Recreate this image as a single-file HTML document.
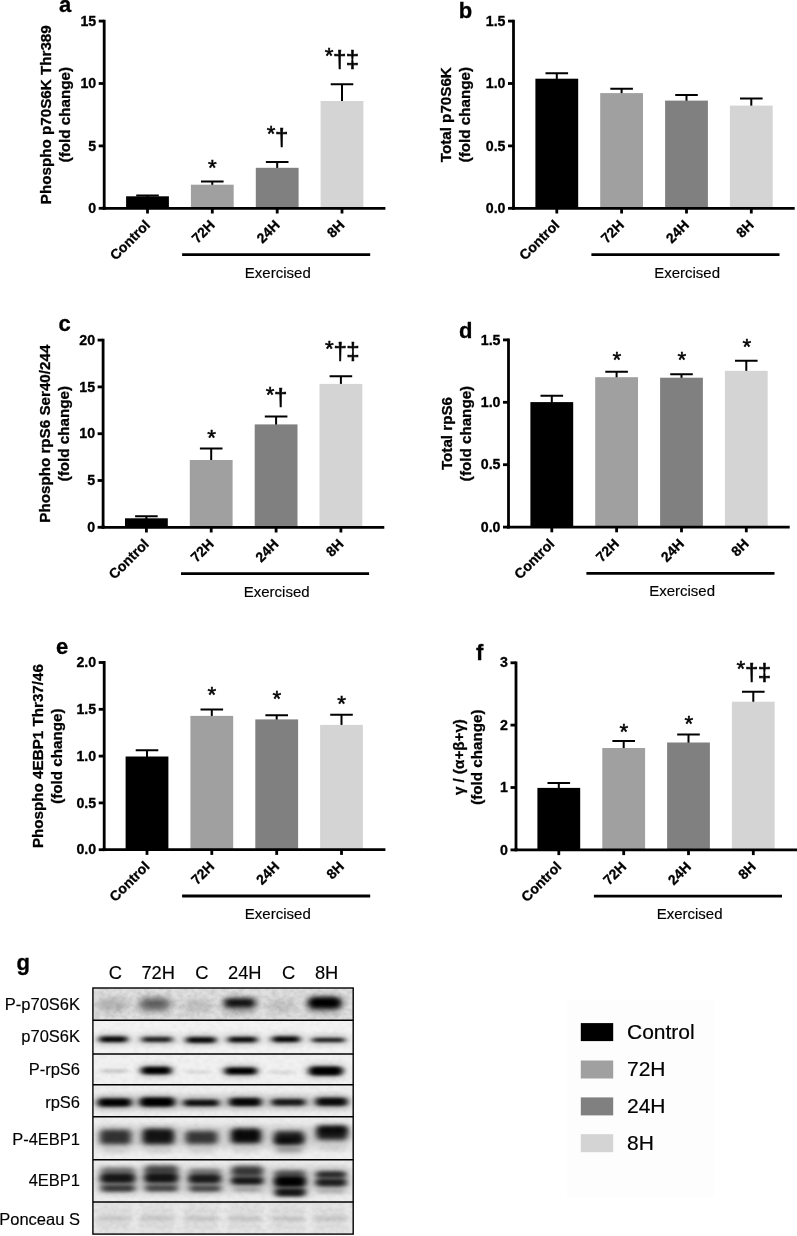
<!DOCTYPE html>
<html lang="en"><head><meta charset="utf-8"><title>Figure</title>
<style>
html,body{margin:0;padding:0;background:#fff}
svg{display:block}
text{font-family:"Liberation Sans", Arial, sans-serif;fill:#000}
.tk{font-size:14.2px;font-weight:bold;stroke:#000;stroke-width:.3px}
.xl{font-size:14px;font-weight:bold;stroke:#000;stroke-width:.3px}
.yl{font-size:15.2px;font-weight:bold;stroke:#000;stroke-width:.3px}
.ex{font-size:15px;stroke:#000;stroke-width:.15px}
.pl{font-size:22px;font-weight:bold;stroke:#000;stroke-width:.3px}
.sg{font-size:22.4px;stroke:#000;stroke-width:.5px}
.dg{font-size:24px;stroke:#000;stroke-width:.6px;stroke-linejoin:miter}
.lg{font-size:21px;stroke:#000;stroke-width:.2px}
.bl{font-size:16.5px;stroke:#000;stroke-width:.15px}
.ln{font-size:18.3px;stroke:#000;stroke-width:.15px}
</style></head><body>
<svg width="797" height="1236" viewBox="0 0 797 1236">
<rect width="797" height="1236" fill="#fff"/>
<path d="M147.5 197.3V195.4M136.2 195.4H158.8" stroke="#000" stroke-width="2.0" fill="none"/>
<rect x="126.1" y="196.3" width="42.8" height="12.0" fill="#000000"/>
<path d="M147.5 208.3v5.2" stroke="#000" stroke-width="2.8"/>
<path d="M212.3 185.7V181.5M201.0 181.5H223.6" stroke="#000" stroke-width="2.0" fill="none"/>
<rect x="190.9" y="184.7" width="42.8" height="23.6" fill="#a0a0a0"/>
<path d="M212.3 208.3v5.2" stroke="#000" stroke-width="2.8"/>
<path d="M277.2 168.8V162.0M265.9 162.0H288.5" stroke="#000" stroke-width="2.0" fill="none"/>
<rect x="255.8" y="167.8" width="42.8" height="40.5" fill="#808080"/>
<path d="M277.2 208.3v5.2" stroke="#000" stroke-width="2.8"/>
<path d="M342.0 102.0V84.3M330.7 84.3H353.3" stroke="#000" stroke-width="2.0" fill="none"/>
<rect x="320.6" y="101.0" width="42.8" height="107.3" fill="#d4d4d4"/>
<path d="M342.0 208.3v5.2" stroke="#000" stroke-width="2.8"/>
<path d="M104.2 19.8V208.3H385.4" stroke="#000" stroke-width="2.8" fill="none" stroke-linejoin="miter"/>
<path d="M104.2 209.7V206.3" stroke="#000" stroke-width="2.8"/>
<path d="M104.2 208.3h-5.5" stroke="#000" stroke-width="2.8"/>
<text x="96.2" y="212.9" text-anchor="end" class="tk">0</text>
<path d="M104.2 145.9h-5.5" stroke="#000" stroke-width="2.8"/>
<text x="96.2" y="150.5" text-anchor="end" class="tk">5</text>
<path d="M104.2 83.5h-5.5" stroke="#000" stroke-width="2.8"/>
<text x="96.2" y="88.1" text-anchor="end" class="tk">10</text>
<path d="M104.2 21.1h-5.5" stroke="#000" stroke-width="2.8"/>
<text x="96.2" y="25.8" text-anchor="end" class="tk">15</text>
<text transform="translate(150.9,225.9) rotate(-45)" text-anchor="end" class="xl">Control</text>
<text transform="translate(215.7,225.9) rotate(-45)" text-anchor="end" class="xl">72H</text>
<text transform="translate(280.6,225.9) rotate(-45)" text-anchor="end" class="xl">24H</text>
<text transform="translate(345.4,225.9) rotate(-45)" text-anchor="end" class="xl">8H</text>
<path d="M182.1 254.6H370.2" stroke="#000" stroke-width="2.8"/>
<text x="277.8" y="277.5" text-anchor="middle" class="ex">Exercised</text>
<text transform="translate(51.2,114.7) rotate(-90)" text-anchor="middle" class="yl">Phospho p70S6K Thr389</text>
<text transform="translate(70.0,114.7) rotate(-90)" text-anchor="middle" class="yl">(fold change)</text>
<text x="59.0" y="12.3" class="pl">a</text>
<text x="208.0" y="175.2" class="sg">*</text>
<text x="266.7" y="141.4" class="sg">*</text>
<text x="275.0" y="145.1" class="dg">†</text>
<text x="324.7" y="63.2" class="sg">*</text>
<text x="333.0 345.8" y="66.9" class="dg">†‡</text>
<path d="M556.8 79.7V73.2M545.5 73.2H568.1" stroke="#000" stroke-width="2.0" fill="none"/>
<rect x="535.4" y="78.7" width="42.8" height="129.6" fill="#000000"/>
<path d="M556.8 208.3v5.2" stroke="#000" stroke-width="2.8"/>
<path d="M621.6 94.1V88.7M610.3 88.7H632.9" stroke="#000" stroke-width="2.0" fill="none"/>
<rect x="600.2" y="93.1" width="42.8" height="115.2" fill="#a0a0a0"/>
<path d="M621.6 208.3v5.2" stroke="#000" stroke-width="2.8"/>
<path d="M686.5 101.6V95.1M675.2 95.1H697.8" stroke="#000" stroke-width="2.0" fill="none"/>
<rect x="665.1" y="100.6" width="42.8" height="107.7" fill="#808080"/>
<path d="M686.5 208.3v5.2" stroke="#000" stroke-width="2.8"/>
<path d="M751.3 106.6V98.6M740.0 98.6H762.6" stroke="#000" stroke-width="2.0" fill="none"/>
<rect x="729.9" y="105.6" width="42.8" height="102.7" fill="#d4d4d4"/>
<path d="M751.3 208.3v5.2" stroke="#000" stroke-width="2.8"/>
<path d="M513.5 19.8V208.3H794.7" stroke="#000" stroke-width="2.8" fill="none" stroke-linejoin="miter"/>
<path d="M513.5 209.7V206.3" stroke="#000" stroke-width="2.8"/>
<path d="M513.5 208.3h-5.5" stroke="#000" stroke-width="2.8"/>
<text x="505.5" y="212.9" text-anchor="end" class="tk">0.0</text>
<path d="M513.5 145.9h-5.5" stroke="#000" stroke-width="2.8"/>
<text x="505.5" y="150.5" text-anchor="end" class="tk">0.5</text>
<path d="M513.5 83.5h-5.5" stroke="#000" stroke-width="2.8"/>
<text x="505.5" y="88.1" text-anchor="end" class="tk">1.0</text>
<path d="M513.5 21.1h-5.5" stroke="#000" stroke-width="2.8"/>
<text x="505.5" y="25.8" text-anchor="end" class="tk">1.5</text>
<text transform="translate(560.2,225.9) rotate(-45)" text-anchor="end" class="xl">Control</text>
<text transform="translate(625.0,225.9) rotate(-45)" text-anchor="end" class="xl">72H</text>
<text transform="translate(689.9,225.9) rotate(-45)" text-anchor="end" class="xl">24H</text>
<text transform="translate(754.7,225.9) rotate(-45)" text-anchor="end" class="xl">8H</text>
<path d="M591.4 254.6H779.5" stroke="#000" stroke-width="2.8"/>
<text x="687.1" y="277.5" text-anchor="middle" class="ex">Exercised</text>
<text transform="translate(451.2,114.7) rotate(-90)" text-anchor="middle" class="yl">Total p70S6K</text>
<text transform="translate(470.0,114.7) rotate(-90)" text-anchor="middle" class="yl">(fold change)</text>
<text x="458.8" y="18.0" class="pl">b</text>
<path d="M146.4 519.3V516.3M135.1 516.3H157.7" stroke="#000" stroke-width="2.0" fill="none"/>
<rect x="125.0" y="518.3" width="42.8" height="9.0" fill="#000000"/>
<path d="M146.4 527.3v5.2" stroke="#000" stroke-width="2.8"/>
<path d="M211.2 461.0V448.5M199.9 448.5H222.5" stroke="#000" stroke-width="2.0" fill="none"/>
<rect x="189.8" y="460.0" width="42.8" height="67.3" fill="#a0a0a0"/>
<path d="M211.2 527.3v5.2" stroke="#000" stroke-width="2.8"/>
<path d="M276.1 425.4V416.4M264.8 416.4H287.4" stroke="#000" stroke-width="2.0" fill="none"/>
<rect x="254.7" y="424.4" width="42.8" height="102.9" fill="#808080"/>
<path d="M276.1 527.3v5.2" stroke="#000" stroke-width="2.8"/>
<path d="M340.9 384.9V376.2M329.6 376.2H352.2" stroke="#000" stroke-width="2.0" fill="none"/>
<rect x="319.5" y="383.9" width="42.8" height="143.4" fill="#d4d4d4"/>
<path d="M340.9 527.3v5.2" stroke="#000" stroke-width="2.8"/>
<path d="M103.1 338.8V527.3H384.3" stroke="#000" stroke-width="2.8" fill="none" stroke-linejoin="miter"/>
<path d="M103.1 528.7V525.3" stroke="#000" stroke-width="2.8"/>
<path d="M103.1 527.3h-5.5" stroke="#000" stroke-width="2.8"/>
<text x="95.1" y="531.9" text-anchor="end" class="tk">0</text>
<path d="M103.1 480.5h-5.5" stroke="#000" stroke-width="2.8"/>
<text x="95.1" y="485.1" text-anchor="end" class="tk">5</text>
<path d="M103.1 433.7h-5.5" stroke="#000" stroke-width="2.8"/>
<text x="95.1" y="438.3" text-anchor="end" class="tk">10</text>
<path d="M103.1 386.9h-5.5" stroke="#000" stroke-width="2.8"/>
<text x="95.1" y="391.5" text-anchor="end" class="tk">15</text>
<path d="M103.1 340.1h-5.5" stroke="#000" stroke-width="2.8"/>
<text x="95.1" y="344.8" text-anchor="end" class="tk">20</text>
<text transform="translate(149.8,544.9) rotate(-45)" text-anchor="end" class="xl">Control</text>
<text transform="translate(214.6,544.9) rotate(-45)" text-anchor="end" class="xl">72H</text>
<text transform="translate(279.5,544.9) rotate(-45)" text-anchor="end" class="xl">24H</text>
<text transform="translate(344.3,544.9) rotate(-45)" text-anchor="end" class="xl">8H</text>
<path d="M181.0 573.6H369.1" stroke="#000" stroke-width="2.8"/>
<text x="276.7" y="596.5" text-anchor="middle" class="ex">Exercised</text>
<text transform="translate(50.0,433.7) rotate(-90)" text-anchor="middle" class="yl">Phospho rpS6 Ser40/244</text>
<text transform="translate(68.8,433.7) rotate(-90)" text-anchor="middle" class="yl">(fold change)</text>
<text x="58.5" y="331.3" class="pl">c</text>
<text x="207.2" y="445.4" class="sg">*</text>
<text x="265.7" y="401.5" class="sg">*</text>
<text x="274.0" y="405.2" class="dg">†</text>
<text x="325.1" y="355.6" class="sg">*</text>
<text x="333.4 346.2" y="359.3" class="dg">†‡</text>
<path d="M551.8 403.1V395.7M540.5 395.7H563.1" stroke="#000" stroke-width="2.0" fill="none"/>
<rect x="530.4" y="402.1" width="42.8" height="125.0" fill="#000000"/>
<path d="M551.8 527.1v5.2" stroke="#000" stroke-width="2.8"/>
<path d="M616.6 378.2V371.8M605.3 371.8H627.9" stroke="#000" stroke-width="2.0" fill="none"/>
<rect x="595.2" y="377.2" width="42.8" height="149.9" fill="#a0a0a0"/>
<path d="M616.6 527.1v5.2" stroke="#000" stroke-width="2.8"/>
<path d="M681.5 378.7V374.3M670.2 374.3H692.8" stroke="#000" stroke-width="2.0" fill="none"/>
<rect x="660.1" y="377.7" width="42.8" height="149.4" fill="#808080"/>
<path d="M681.5 527.1v5.2" stroke="#000" stroke-width="2.8"/>
<path d="M746.3 371.8V360.8M735.0 360.8H757.6" stroke="#000" stroke-width="2.0" fill="none"/>
<rect x="724.9" y="370.8" width="42.8" height="156.3" fill="#d4d4d4"/>
<path d="M746.3 527.1v5.2" stroke="#000" stroke-width="2.8"/>
<path d="M508.5 338.6V527.1H789.7" stroke="#000" stroke-width="2.8" fill="none" stroke-linejoin="miter"/>
<path d="M508.5 528.5V525.1" stroke="#000" stroke-width="2.8"/>
<path d="M508.5 527.1h-5.5" stroke="#000" stroke-width="2.8"/>
<text x="500.5" y="531.7" text-anchor="end" class="tk">0.0</text>
<path d="M508.5 464.7h-5.5" stroke="#000" stroke-width="2.8"/>
<text x="500.5" y="469.3" text-anchor="end" class="tk">0.5</text>
<path d="M508.5 402.3h-5.5" stroke="#000" stroke-width="2.8"/>
<text x="500.5" y="406.9" text-anchor="end" class="tk">1.0</text>
<path d="M508.5 339.9h-5.5" stroke="#000" stroke-width="2.8"/>
<text x="500.5" y="344.6" text-anchor="end" class="tk">1.5</text>
<text transform="translate(555.2,544.7) rotate(-45)" text-anchor="end" class="xl">Control</text>
<text transform="translate(620.0,544.7) rotate(-45)" text-anchor="end" class="xl">72H</text>
<text transform="translate(684.9,544.7) rotate(-45)" text-anchor="end" class="xl">24H</text>
<text transform="translate(749.7,544.7) rotate(-45)" text-anchor="end" class="xl">8H</text>
<path d="M586.4 573.4H774.5" stroke="#000" stroke-width="2.8"/>
<text x="682.1" y="596.3" text-anchor="middle" class="ex">Exercised</text>
<text transform="translate(451.9,433.5) rotate(-90)" text-anchor="middle" class="yl">Total rpS6</text>
<text transform="translate(470.7,433.5) rotate(-90)" text-anchor="middle" class="yl">(fold change)</text>
<text x="459.0" y="337.6" class="pl">d</text>
<text x="612.4" y="367.1" class="sg">*</text>
<text x="677.5" y="367.1" class="sg">*</text>
<text x="742.5" y="354.2" class="sg">*</text>
<path d="M147.0 757.5V750.3M135.7 750.3H158.3" stroke="#000" stroke-width="2.0" fill="none"/>
<rect x="125.6" y="756.5" width="42.8" height="93.2" fill="#000000"/>
<path d="M147.0 849.7v5.2" stroke="#000" stroke-width="2.8"/>
<path d="M211.8 716.9V709.6M200.5 709.6H223.1" stroke="#000" stroke-width="2.0" fill="none"/>
<rect x="190.4" y="715.9" width="42.8" height="133.8" fill="#a0a0a0"/>
<path d="M211.8 849.7v5.2" stroke="#000" stroke-width="2.8"/>
<path d="M276.7 720.4V715.2M265.4 715.2H288.0" stroke="#000" stroke-width="2.0" fill="none"/>
<rect x="255.3" y="719.4" width="42.8" height="130.3" fill="#808080"/>
<path d="M276.7 849.7v5.2" stroke="#000" stroke-width="2.8"/>
<path d="M341.5 725.9V714.7M330.2 714.7H352.8" stroke="#000" stroke-width="2.0" fill="none"/>
<rect x="320.1" y="724.9" width="42.8" height="124.8" fill="#d4d4d4"/>
<path d="M341.5 849.7v5.2" stroke="#000" stroke-width="2.8"/>
<path d="M104.2 661.1V849.7H385.4" stroke="#000" stroke-width="2.8" fill="none" stroke-linejoin="miter"/>
<path d="M104.2 851.1V847.7" stroke="#000" stroke-width="2.8"/>
<path d="M104.2 849.7h-5.5" stroke="#000" stroke-width="2.8"/>
<text x="96.2" y="854.3" text-anchor="end" class="tk">0.0</text>
<path d="M104.2 802.9h-5.5" stroke="#000" stroke-width="2.8"/>
<text x="96.2" y="807.5" text-anchor="end" class="tk">0.5</text>
<path d="M104.2 756.1h-5.5" stroke="#000" stroke-width="2.8"/>
<text x="96.2" y="760.7" text-anchor="end" class="tk">1.0</text>
<path d="M104.2 709.3h-5.5" stroke="#000" stroke-width="2.8"/>
<text x="96.2" y="713.9" text-anchor="end" class="tk">1.5</text>
<path d="M104.2 662.5h-5.5" stroke="#000" stroke-width="2.8"/>
<text x="96.2" y="667.1" text-anchor="end" class="tk">2.0</text>
<text transform="translate(150.4,867.3) rotate(-45)" text-anchor="end" class="xl">Control</text>
<text transform="translate(215.2,867.3) rotate(-45)" text-anchor="end" class="xl">72H</text>
<text transform="translate(280.1,867.3) rotate(-45)" text-anchor="end" class="xl">24H</text>
<text transform="translate(344.9,867.3) rotate(-45)" text-anchor="end" class="xl">8H</text>
<path d="M182.1 896.0H370.2" stroke="#000" stroke-width="2.8"/>
<text x="277.8" y="918.9" text-anchor="middle" class="ex">Exercised</text>
<text transform="translate(43.4,756.1) rotate(-90)" text-anchor="middle" class="yl">Phospho 4EBP1 Thr37/46</text>
<text transform="translate(62.2,756.1) rotate(-90)" text-anchor="middle" class="yl">(fold change)</text>
<text x="56.0" y="653.8" class="pl">e</text>
<text x="207.4" y="702.4" class="sg">*</text>
<text x="272.5" y="705.8" class="sg">*</text>
<text x="337.2" y="710.9" class="sg">*</text>
<path d="M558.8 788.9V782.9M547.5 782.9H570.1" stroke="#000" stroke-width="2.0" fill="none"/>
<rect x="537.4" y="787.9" width="42.8" height="62.0" fill="#000000"/>
<path d="M558.8 849.9v5.2" stroke="#000" stroke-width="2.8"/>
<path d="M623.7 749.0V741.0M612.4 741.0H635.0" stroke="#000" stroke-width="2.0" fill="none"/>
<rect x="602.3" y="748.0" width="42.8" height="101.9" fill="#a0a0a0"/>
<path d="M623.7 849.9v5.2" stroke="#000" stroke-width="2.8"/>
<path d="M688.5 743.5V734.6M677.2 734.6H699.8" stroke="#000" stroke-width="2.0" fill="none"/>
<rect x="667.1" y="742.5" width="42.8" height="107.4" fill="#808080"/>
<path d="M688.5 849.9v5.2" stroke="#000" stroke-width="2.8"/>
<path d="M753.3 702.7V691.7M742.0 691.7H764.6" stroke="#000" stroke-width="2.0" fill="none"/>
<rect x="731.9" y="701.7" width="42.8" height="148.2" fill="#d4d4d4"/>
<path d="M753.3 849.9v5.2" stroke="#000" stroke-width="2.8"/>
<path d="M516.0 661.4V849.9H797.2" stroke="#000" stroke-width="2.8" fill="none" stroke-linejoin="miter"/>
<path d="M516.0 851.3V847.9" stroke="#000" stroke-width="2.8"/>
<path d="M516.0 849.9h-5.5" stroke="#000" stroke-width="2.8"/>
<text x="508.0" y="854.5" text-anchor="end" class="tk">0</text>
<path d="M516.0 787.5h-5.5" stroke="#000" stroke-width="2.8"/>
<text x="508.0" y="792.1" text-anchor="end" class="tk">1</text>
<path d="M516.0 725.1h-5.5" stroke="#000" stroke-width="2.8"/>
<text x="508.0" y="729.7" text-anchor="end" class="tk">2</text>
<path d="M516.0 662.8h-5.5" stroke="#000" stroke-width="2.8"/>
<text x="508.0" y="667.4" text-anchor="end" class="tk">3</text>
<text transform="translate(562.2,867.5) rotate(-45)" text-anchor="end" class="xl">Control</text>
<text transform="translate(627.1,867.5) rotate(-45)" text-anchor="end" class="xl">72H</text>
<text transform="translate(691.9,867.5) rotate(-45)" text-anchor="end" class="xl">24H</text>
<text transform="translate(756.7,867.5) rotate(-45)" text-anchor="end" class="xl">8H</text>
<path d="M593.9 896.2H782.0" stroke="#000" stroke-width="2.8"/>
<text x="689.6" y="919.1" text-anchor="middle" class="ex">Exercised</text>
<text transform="translate(463.5,757.1) rotate(-90)" text-anchor="middle" class="yl">γ / (α+β+γ)</text>
<text transform="translate(482.3,757.1) rotate(-90)" text-anchor="middle" class="yl">(fold change)</text>
<text x="476.0" y="660.3" class="pl">f</text>
<text x="619.4" y="738.7" class="sg">*</text>
<text x="684.5" y="730.9" class="sg">*</text>
<text x="736.6" y="676.0" class="sg">*</text>
<text x="744.9 757.7" y="679.7" class="dg">†‡</text>
<rect x="567" y="999.7" width="147" height="197" fill="#fdfdfd"/>
<rect x="580.8" y="1023.1" width="32.4" height="18" fill="#000000"/>
<text x="627" y="1038.7" class="lg">Control</text>
<rect x="580.8" y="1060.5" width="32.4" height="18" fill="#a0a0a0"/>
<text x="627" y="1076.1" class="lg">72H</text>
<rect x="580.8" y="1097.4" width="32.4" height="18" fill="#808080"/>
<text x="627" y="1113.0" class="lg">24H</text>
<rect x="580.8" y="1134.2" width="32.4" height="18" fill="#d4d4d4"/>
<text x="627" y="1149.8" class="lg">8H</text>
<defs><filter id="b1" x="-30%" y="-150%" width="160%" height="400%"><feGaussianBlur stdDeviation="3 1.7"/></filter><filter id="b2" x="-30%" y="-150%" width="160%" height="400%"><feGaussianBlur stdDeviation="4 3"/></filter><filter id="b3" x="-30%" y="-150%" width="160%" height="400%"><feGaussianBlur stdDeviation="3 2.3"/></filter><clipPath id="bc"><rect x="92.9" y="988.0" width="260.29999999999995" height="246.0999999999999"/></clipPath><filter id="nz" x="0" y="0" width="100%" height="100%"><feTurbulence type="fractalNoise" baseFrequency="0.18 0.22" numOctaves="2" seed="7"/><feColorMatrix type="matrix" values="0 0 0 0 0 0 0 0 0 0 0 0 0 0 0 1.2 0 0 0 -0.42"/></filter></defs>
<g clip-path="url(#bc)">
<rect x="92.9" y="988.0" width="260.3" height="32.2" fill="#e0e0e0"/>
<rect x="92.9" y="1020.2" width="260.3" height="33.9" fill="#f3f3f3"/>
<rect x="92.9" y="1054.1" width="260.3" height="30.7" fill="#f1f1f1"/>
<rect x="92.9" y="1084.8" width="260.3" height="32.0" fill="#efefef"/>
<rect x="92.9" y="1116.8" width="260.3" height="42.9" fill="#efefef"/>
<rect x="92.9" y="1159.7" width="260.3" height="42.4" fill="#ededed"/>
<rect x="92.9" y="1202.1" width="260.3" height="32.0" fill="#e3e3e3"/>
<rect x="95.9" y="1035.1" width="254.3" height="9" fill="#000" opacity="0.05" filter="url(#b2)"/>
<rect x="95.9" y="1095.7" width="254.3" height="13" fill="#000" opacity="0.13" filter="url(#b2)"/>
<rect x="95.9" y="1125.0" width="254.3" height="24" fill="#000" opacity="0.1" filter="url(#b2)"/>
<rect x="95.9" y="1166.5" width="254.3" height="27" fill="#000" opacity="0.11" filter="url(#b2)"/>
<rect x="97.0" y="998.5" width="31.0" height="13.0" rx="6.5" fill="#000" opacity="0.19" filter="url(#b2)"/>
<rect x="140.0" y="998.5" width="29.5" height="10.5" rx="5.2" fill="#000" opacity="0.5" filter="url(#b2)"/>
<rect x="138.0" y="997.0" width="33.5" height="13.5" rx="6.8" fill="#000" opacity="0.15" filter="url(#b2)"/>
<rect x="182.0" y="999.5" width="30.0" height="13.0" rx="6.5" fill="#000" opacity="0.13" filter="url(#b2)"/>
<rect x="224.5" y="998.5" width="30.5" height="8.5" rx="4.2" fill="#000" opacity="0.88" filter="url(#b3)"/>
<rect x="222.5" y="997.0" width="34.5" height="11.5" rx="5.8" fill="#000" opacity="0.26" filter="url(#b2)"/>
<rect x="267.0" y="999.5" width="29.0" height="13.0" rx="6.5" fill="#000" opacity="0.12" filter="url(#b2)"/>
<rect x="308.5" y="997.3" width="32.5" height="11.0" rx="5.5" fill="#000" opacity="1" filter="url(#b3)"/>
<rect x="306.5" y="995.8" width="36.5" height="14.0" rx="7.0" fill="#000" opacity="0.30" filter="url(#b2)"/>
<rect x="224.0" y="1002.0" width="31.0" height="12.0" rx="6.0" fill="#000" opacity="0.22" filter="url(#b2)"/>
<rect x="308.0" y="1002.0" width="33.0" height="12.0" rx="6.0" fill="#000" opacity="0.2" filter="url(#b2)"/>
<rect x="140.0" y="1004.0" width="29.0" height="10.0" rx="5.0" fill="#000" opacity="0.1" filter="url(#b2)"/>
<rect x="99.5" y="1036.5" width="27.5" height="5.5" rx="2.8" fill="#000" opacity="0.97" filter="url(#b1)"/>
<rect x="97.5" y="1035.0" width="31.5" height="8.5" rx="4.2" fill="#000" opacity="0.29" filter="url(#b2)"/>
<rect x="142.0" y="1037.1" width="30.0" height="4.8" rx="2.4" fill="#000" opacity="0.82" filter="url(#b1)"/>
<rect x="140.0" y="1035.6" width="34.0" height="7.8" rx="3.9" fill="#000" opacity="0.25" filter="url(#b2)"/>
<rect x="186.5" y="1037.2" width="29.0" height="5.5" rx="2.8" fill="#000" opacity="0.97" filter="url(#b1)"/>
<rect x="184.5" y="1035.8" width="33.0" height="8.5" rx="4.2" fill="#000" opacity="0.29" filter="url(#b2)"/>
<rect x="228.5" y="1037.1" width="28.0" height="5.2" rx="2.6" fill="#000" opacity="0.94" filter="url(#b1)"/>
<rect x="226.5" y="1035.6" width="32.0" height="8.2" rx="4.1" fill="#000" opacity="0.28" filter="url(#b2)"/>
<rect x="272.5" y="1036.5" width="27.0" height="5.5" rx="2.8" fill="#000" opacity="0.97" filter="url(#b1)"/>
<rect x="270.5" y="1035.0" width="31.0" height="8.5" rx="4.2" fill="#000" opacity="0.29" filter="url(#b2)"/>
<rect x="312.5" y="1037.9" width="32.0" height="4.2" rx="2.1" fill="#000" opacity="0.88" filter="url(#b1)"/>
<rect x="310.5" y="1036.4" width="36.0" height="7.2" rx="3.6" fill="#000" opacity="0.26" filter="url(#b2)"/>
<rect x="101.0" y="1069.7" width="26.0" height="2.6" rx="1.3" fill="#000" opacity="0.25" filter="url(#b1)"/>
<rect x="141.5" y="1066.7" width="29.5" height="7.6" rx="3.8" fill="#000" opacity="1" filter="url(#b1)"/>
<rect x="139.5" y="1065.2" width="33.5" height="10.6" rx="5.3" fill="#000" opacity="0.30" filter="url(#b2)"/>
<rect x="185.0" y="1070.7" width="26.0" height="2.6" rx="1.3" fill="#000" opacity="0.13" filter="url(#b1)"/>
<rect x="225.0" y="1067.4" width="31.5" height="7.2" rx="3.6" fill="#000" opacity="1" filter="url(#b1)"/>
<rect x="223.0" y="1065.9" width="35.5" height="10.2" rx="5.1" fill="#000" opacity="0.30" filter="url(#b2)"/>
<rect x="269.0" y="1070.9" width="25.0" height="2.6" rx="1.3" fill="#000" opacity="0.14" filter="url(#b1)"/>
<rect x="309.0" y="1066.4" width="33.5" height="9.0" rx="4.5" fill="#000" opacity="1" filter="url(#b1)"/>
<rect x="307.0" y="1064.9" width="37.5" height="12.0" rx="6.0" fill="#000" opacity="0.30" filter="url(#b2)"/>
<rect x="98.0" y="1098.5" width="33.0" height="8.0" rx="4.0" fill="#000" opacity="0.98" filter="url(#b1)"/>
<rect x="96.0" y="1097.0" width="37.0" height="11.0" rx="5.5" fill="#000" opacity="0.29" filter="url(#b2)"/>
<rect x="140.0" y="1097.5" width="34.5" height="9.0" rx="4.5" fill="#000" opacity="1" filter="url(#b1)"/>
<rect x="138.0" y="1096.0" width="38.5" height="12.0" rx="6.0" fill="#000" opacity="0.30" filter="url(#b2)"/>
<rect x="184.0" y="1099.7" width="34.5" height="6.4" rx="3.2" fill="#000" opacity="0.9" filter="url(#b1)"/>
<rect x="182.0" y="1098.2" width="38.5" height="9.4" rx="4.7" fill="#000" opacity="0.27" filter="url(#b2)"/>
<rect x="229.5" y="1098.0" width="31.5" height="8.0" rx="4.0" fill="#000" opacity="0.94" filter="url(#b1)"/>
<rect x="227.5" y="1096.5" width="35.5" height="11.0" rx="5.5" fill="#000" opacity="0.28" filter="url(#b2)"/>
<rect x="272.0" y="1099.1" width="33.0" height="6.4" rx="3.2" fill="#000" opacity="0.84" filter="url(#b1)"/>
<rect x="270.0" y="1097.6" width="37.0" height="9.4" rx="4.7" fill="#000" opacity="0.25" filter="url(#b2)"/>
<rect x="316.0" y="1097.7" width="31.0" height="8.0" rx="4.0" fill="#000" opacity="0.92" filter="url(#b1)"/>
<rect x="314.0" y="1096.2" width="35.0" height="11.0" rx="5.5" fill="#000" opacity="0.28" filter="url(#b2)"/>
<rect x="100.5" y="1130.0" width="30.0" height="14.0" rx="3.5" fill="#000" opacity="0.7" filter="url(#b3)"/>
<rect x="98.5" y="1128.5" width="34.0" height="17.0" rx="5.0" fill="#000" opacity="0.21" filter="url(#b2)"/>
<rect x="102.0" y="1149.0" width="27.0" height="4.0" rx="3.5" fill="#000" opacity="0.13" filter="url(#b3)"/>
<rect x="143.0" y="1129.0" width="30.5" height="15.0" rx="3.5" fill="#000" opacity="0.84" filter="url(#b3)"/>
<rect x="141.0" y="1127.5" width="34.5" height="18.0" rx="5.0" fill="#000" opacity="0.25" filter="url(#b2)"/>
<rect x="145.0" y="1149.0" width="27.0" height="4.0" rx="3.5" fill="#000" opacity="0.12" filter="url(#b3)"/>
<rect x="186.0" y="1131.2" width="31.0" height="12.5" rx="3.5" fill="#000" opacity="0.68" filter="url(#b3)"/>
<rect x="184.0" y="1129.8" width="35.0" height="15.5" rx="5.0" fill="#000" opacity="0.20" filter="url(#b2)"/>
<rect x="188.0" y="1149.0" width="27.0" height="4.0" rx="3.5" fill="#000" opacity="0.12" filter="url(#b3)"/>
<rect x="231.5" y="1129.0" width="29.0" height="14.0" rx="3.5" fill="#000" opacity="0.9" filter="url(#b3)"/>
<rect x="229.5" y="1127.5" width="33.0" height="17.0" rx="5.0" fill="#000" opacity="0.27" filter="url(#b2)"/>
<rect x="233.0" y="1148.5" width="26.0" height="4.0" rx="3.5" fill="#000" opacity="0.1" filter="url(#b3)"/>
<rect x="274.5" y="1131.5" width="29.0" height="13.0" rx="3.5" fill="#000" opacity="0.8" filter="url(#b3)"/>
<rect x="272.5" y="1130.0" width="33.0" height="16.0" rx="5.0" fill="#000" opacity="0.24" filter="url(#b2)"/>
<rect x="276.0" y="1148.0" width="26.0" height="4.0" rx="3.5" fill="#000" opacity="0.33" filter="url(#b3)"/>
<rect x="274.0" y="1146.5" width="30.0" height="7.0" rx="5.0" fill="#000" opacity="0.10" filter="url(#b2)"/>
<rect x="317.0" y="1126.0" width="30.0" height="13.5" rx="3.5" fill="#000" opacity="0.82" filter="url(#b3)"/>
<rect x="315.0" y="1124.5" width="34.0" height="16.5" rx="5.0" fill="#000" opacity="0.25" filter="url(#b2)"/>
<rect x="319.0" y="1146.5" width="26.0" height="4.0" rx="3.5" fill="#000" opacity="0.08" filter="url(#b3)"/>
<rect x="235.0" y="1130.5" width="10.0" height="8.0" rx="4.0" fill="#000" opacity="0.5" filter="url(#b3)"/>
<rect x="248.0" y="1130.5" width="10.0" height="8.0" rx="4.0" fill="#000" opacity="0.5" filter="url(#b3)"/>
<rect x="276.0" y="1138.0" width="18.0" height="5.0" rx="2.5" fill="#000" opacity="0.85" filter="url(#b3)"/>
<rect x="292.0" y="1137.0" width="11.0" height="5.0" rx="2.5" fill="#000" opacity="0.6" filter="url(#b3)"/>
<rect x="319.0" y="1127.8" width="14.0" height="5.0" rx="2.5" fill="#000" opacity="0.85" filter="url(#b3)"/>
<rect x="332.0" y="1127.5" width="14.0" height="5.0" rx="2.5" fill="#000" opacity="0.85" filter="url(#b3)"/>
<rect x="147.0" y="1131.0" width="12.0" height="8.0" rx="4.0" fill="#000" opacity="0.3" filter="url(#b3)"/>
<rect x="161.0" y="1132.0" width="11.0" height="8.0" rx="4.0" fill="#000" opacity="0.3" filter="url(#b3)"/>
<rect x="101.5" y="1167.5" width="32.5" height="7.0" rx="3.5" fill="#000" opacity="0.3" filter="url(#b3)"/>
<rect x="101.0" y="1174.0" width="33.5" height="8.5" rx="4.2" fill="#000" opacity="0.8" filter="url(#b1)"/>
<rect x="99.0" y="1172.5" width="37.5" height="11.5" rx="5.8" fill="#000" opacity="0.24" filter="url(#b2)"/>
<rect x="102.0" y="1185.4" width="32.0" height="6.0" rx="3.0" fill="#000" opacity="0.55" filter="url(#b1)"/>
<rect x="100.0" y="1183.9" width="36.0" height="9.0" rx="4.5" fill="#000" opacity="0.17" filter="url(#b2)"/>
<rect x="145.5" y="1166.0" width="31.5" height="8.0" rx="4.0" fill="#000" opacity="0.48" filter="url(#b3)"/>
<rect x="143.5" y="1164.5" width="35.5" height="11.0" rx="5.5" fill="#000" opacity="0.14" filter="url(#b2)"/>
<rect x="145.0" y="1173.8" width="32.5" height="8.5" rx="4.2" fill="#000" opacity="0.8" filter="url(#b1)"/>
<rect x="143.0" y="1172.2" width="36.5" height="11.5" rx="5.8" fill="#000" opacity="0.24" filter="url(#b2)"/>
<rect x="146.0" y="1185.8" width="31.0" height="5.5" rx="2.8" fill="#000" opacity="0.45" filter="url(#b1)"/>
<rect x="144.0" y="1184.2" width="35.0" height="8.5" rx="4.2" fill="#000" opacity="0.14" filter="url(#b2)"/>
<rect x="189.5" y="1169.0" width="30.5" height="6.0" rx="3.0" fill="#000" opacity="0.25" filter="url(#b3)"/>
<rect x="189.0" y="1174.8" width="31.5" height="8.0" rx="4.0" fill="#000" opacity="0.76" filter="url(#b1)"/>
<rect x="187.0" y="1173.3" width="35.5" height="11.0" rx="5.5" fill="#000" opacity="0.23" filter="url(#b2)"/>
<rect x="190.0" y="1186.0" width="30.0" height="5.5" rx="2.8" fill="#000" opacity="0.45" filter="url(#b1)"/>
<rect x="188.0" y="1184.5" width="34.0" height="8.5" rx="4.2" fill="#000" opacity="0.14" filter="url(#b2)"/>
<rect x="232.5" y="1166.8" width="29.5" height="8.5" rx="4.2" fill="#000" opacity="0.55" filter="url(#b3)"/>
<rect x="230.5" y="1165.2" width="33.5" height="11.5" rx="5.8" fill="#000" opacity="0.17" filter="url(#b2)"/>
<rect x="232.0" y="1177.5" width="30.5" height="6.5" rx="3.2" fill="#000" opacity="0.78" filter="url(#b1)"/>
<rect x="230.0" y="1176.0" width="34.5" height="9.5" rx="4.8" fill="#000" opacity="0.23" filter="url(#b2)"/>
<rect x="234.0" y="1187.8" width="27.0" height="4.5" rx="2.2" fill="#000" opacity="0.2" filter="url(#b1)"/>
<rect x="275.5" y="1171.0" width="29.0" height="6.0" rx="3.0" fill="#000" opacity="0.35" filter="url(#b3)"/>
<rect x="273.5" y="1169.5" width="33.0" height="9.0" rx="4.5" fill="#000" opacity="0.10" filter="url(#b2)"/>
<rect x="275.0" y="1176.8" width="30.0" height="9.5" rx="4.8" fill="#000" opacity="0.97" filter="url(#b1)"/>
<rect x="273.0" y="1175.3" width="34.0" height="12.5" rx="6.2" fill="#000" opacity="0.29" filter="url(#b2)"/>
<rect x="276.0" y="1189.1" width="28.5" height="7.0" rx="3.5" fill="#000" opacity="0.78" filter="url(#b1)"/>
<rect x="274.0" y="1187.6" width="32.5" height="10.0" rx="5.0" fill="#000" opacity="0.23" filter="url(#b2)"/>
<rect x="317.0" y="1171.8" width="28.0" height="5.5" rx="2.8" fill="#000" opacity="0.62" filter="url(#b1)"/>
<rect x="315.0" y="1170.2" width="32.0" height="8.5" rx="4.2" fill="#000" opacity="0.19" filter="url(#b2)"/>
<rect x="316.5" y="1179.2" width="29.0" height="6.5" rx="3.2" fill="#000" opacity="0.72" filter="url(#b1)"/>
<rect x="314.5" y="1177.8" width="33.0" height="9.5" rx="4.8" fill="#000" opacity="0.22" filter="url(#b2)"/>
<rect x="318.0" y="1189.2" width="26.0" height="4.5" rx="2.2" fill="#000" opacity="0.15" filter="url(#b1)"/>
<rect x="101.0" y="1168.0" width="33.5" height="23.0" rx="3.0" fill="#000" opacity="0.28" filter="url(#b3)"/>
<rect x="145.0" y="1166.0" width="32.5" height="25.0" rx="3.0" fill="#000" opacity="0.3" filter="url(#b3)"/>
<rect x="189.0" y="1169.0" width="31.5" height="22.5" rx="3.0" fill="#000" opacity="0.26" filter="url(#b3)"/>
<rect x="232.0" y="1166.5" width="30.5" height="19.5" rx="3.0" fill="#000" opacity="0.32" filter="url(#b3)"/>
<rect x="275.0" y="1171.0" width="30.0" height="25.0" rx="3.0" fill="#000" opacity="0.38" filter="url(#b3)"/>
<rect x="316.5" y="1171.0" width="29.0" height="16.0" rx="3.0" fill="#000" opacity="0.34" filter="url(#b3)"/>
<rect x="90.0" y="1202.1" width="7" height="32" fill="#fff" opacity=".35" filter="url(#b2)"/>
<rect x="132.5" y="1202.1" width="7" height="32" fill="#fff" opacity=".35" filter="url(#b2)"/>
<rect x="176.0" y="1202.1" width="7" height="32" fill="#fff" opacity=".35" filter="url(#b2)"/>
<rect x="220.0" y="1202.1" width="7" height="32" fill="#fff" opacity=".35" filter="url(#b2)"/>
<rect x="263.5" y="1202.1" width="7" height="32" fill="#fff" opacity=".35" filter="url(#b2)"/>
<rect x="306.0" y="1202.1" width="7" height="32" fill="#fff" opacity=".35" filter="url(#b2)"/>
<rect x="347.0" y="1202.1" width="7" height="32" fill="#fff" opacity=".35" filter="url(#b2)"/>
<rect x="97.0" y="1217.3" width="33.0" height="2.6" rx="1.3" fill="#000" opacity="0.24" filter="url(#b3)"/>
<rect x="97.0" y="1210.0" width="33.0" height="2.0" rx="1.0" fill="#000" opacity="0.07" filter="url(#b3)"/>
<rect x="97.0" y="1225.0" width="33.0" height="2.0" rx="1.0" fill="#000" opacity="0.07" filter="url(#b3)"/>
<rect x="140.0" y="1217.3" width="34.0" height="2.6" rx="1.3" fill="#000" opacity="0.24" filter="url(#b3)"/>
<rect x="140.0" y="1210.0" width="34.0" height="2.0" rx="1.0" fill="#000" opacity="0.07" filter="url(#b3)"/>
<rect x="140.0" y="1225.0" width="34.0" height="2.0" rx="1.0" fill="#000" opacity="0.07" filter="url(#b3)"/>
<rect x="184.0" y="1217.3" width="34.0" height="2.6" rx="1.3" fill="#000" opacity="0.24" filter="url(#b3)"/>
<rect x="184.0" y="1210.0" width="34.0" height="2.0" rx="1.0" fill="#000" opacity="0.07" filter="url(#b3)"/>
<rect x="184.0" y="1225.0" width="34.0" height="2.0" rx="1.0" fill="#000" opacity="0.07" filter="url(#b3)"/>
<rect x="228.0" y="1217.3" width="33.0" height="2.6" rx="1.3" fill="#000" opacity="0.24" filter="url(#b3)"/>
<rect x="228.0" y="1210.0" width="33.0" height="2.0" rx="1.0" fill="#000" opacity="0.07" filter="url(#b3)"/>
<rect x="228.0" y="1225.0" width="33.0" height="2.0" rx="1.0" fill="#000" opacity="0.07" filter="url(#b3)"/>
<rect x="271.0" y="1217.3" width="33.0" height="2.6" rx="1.3" fill="#000" opacity="0.24" filter="url(#b3)"/>
<rect x="271.0" y="1210.0" width="33.0" height="2.0" rx="1.0" fill="#000" opacity="0.07" filter="url(#b3)"/>
<rect x="271.0" y="1225.0" width="33.0" height="2.0" rx="1.0" fill="#000" opacity="0.07" filter="url(#b3)"/>
<rect x="314.0" y="1217.3" width="33.0" height="2.6" rx="1.3" fill="#000" opacity="0.24" filter="url(#b3)"/>
<rect x="314.0" y="1210.0" width="33.0" height="2.0" rx="1.0" fill="#000" opacity="0.07" filter="url(#b3)"/>
<rect x="314.0" y="1225.0" width="33.0" height="2.0" rx="1.0" fill="#000" opacity="0.07" filter="url(#b3)"/>
<rect x="92.9" y="988.0" width="260.3" height="32.2" filter="url(#nz)" opacity=".16"/>
<rect x="92.9" y="1020.2" width="260.3" height="181.9" filter="url(#nz)" opacity=".05"/>
<rect x="92.9" y="1202.1" width="260.3" height="32.0" filter="url(#nz)" opacity=".08"/>
</g>
<rect x="92.9" y="988.0" width="260.3" height="246.1" fill="none" stroke="#000" stroke-width="1.4"/>
<path d="M92.9 1020.2H353.2" stroke="#000" stroke-width="1.5"/>
<path d="M92.9 1054.1H353.2" stroke="#000" stroke-width="1.5"/>
<path d="M92.9 1084.8H353.2" stroke="#000" stroke-width="1.5"/>
<path d="M92.9 1116.8H353.2" stroke="#000" stroke-width="1.5"/>
<path d="M92.9 1159.7H353.2" stroke="#000" stroke-width="1.5"/>
<path d="M92.9 1202.1H353.2" stroke="#000" stroke-width="1.5"/>
<text x="115.4" y="978.8" text-anchor="middle" class="ln">C</text>
<text x="158.2" y="978.8" text-anchor="middle" class="ln">72H</text>
<text x="201.8" y="978.8" text-anchor="middle" class="ln">C</text>
<text x="244.8" y="978.8" text-anchor="middle" class="ln">24H</text>
<text x="288.6" y="978.8" text-anchor="middle" class="ln">C</text>
<text x="326.6" y="978.8" text-anchor="middle" class="ln">8H</text>
<text x="80" y="1009.5" text-anchor="end" class="bl">P-p70S6K</text>
<text x="80" y="1041.7" text-anchor="end" class="bl">p70S6K</text>
<text x="80" y="1074.5" text-anchor="end" class="bl">P-rpS6</text>
<text x="80" y="1108" text-anchor="end" class="bl">rpS6</text>
<text x="80" y="1145" text-anchor="end" class="bl">P-4EBP1</text>
<text x="80" y="1186.4" text-anchor="end" class="bl">4EBP1</text>
<text x="80" y="1225.3" text-anchor="end" class="bl">Ponceau S</text>
<text x="16.6" y="969.6" class="pl">g</text>
</svg>
</body></html>
